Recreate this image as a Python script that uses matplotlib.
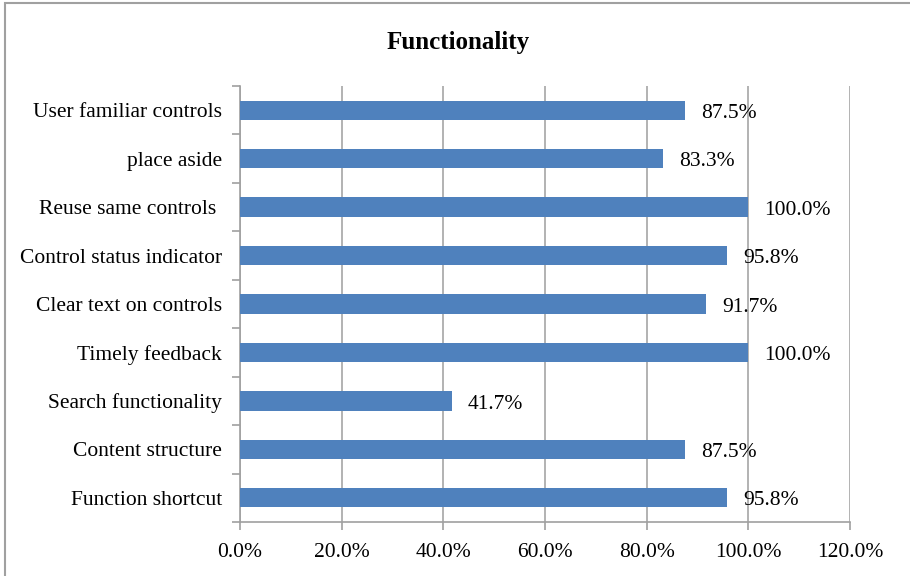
import matplotlib
matplotlib.use("Agg")
import matplotlib.pyplot as plt
from matplotlib.patches import Rectangle
from matplotlib.ticker import FixedLocator

categories = ["Function shortcut", "Content structure", "Search functionality",
              "Timely feedback", "Clear text on controls", "Control status indicator",
              "Reuse same controls ", "place aside", "User familiar controls"]
values = [95.8, 87.5, 41.7, 100.0, 91.7, 95.8, 100.0, 83.3, 87.5]
xticks = [0, 20, 40, 60, 80, 100, 120]
title = "Functionality"

plt.rcParams['font.family'] = ['Liberation Serif', 'DejaVu Serif']
FS = 15.5

fig = plt.figure(figsize=(9.1, 5.76), dpi=100)
ax = fig.add_axes([240/910, 1-522/576, 610/910, 436/576])

y = list(range(len(categories)))
ax.barh(y, values, height=0.4, color='#4f81bd', zorder=3)
ax.set_xlim(0, 120)
ax.set_ylim(-0.5, len(categories)-0.5)
ax.set_xticks(xticks)
ax.set_xticklabels([f"{v:.1f}%" for v in xticks], fontsize=FS)
ax.set_yticks(y)
ax.set_yticklabels(categories, fontsize=FS)
ax.yaxis.set_minor_locator(FixedLocator([i-0.5 for i in range(len(categories)+1)]))
ax.tick_params(axis='y', which='major', length=0, pad=13)
ax.tick_params(axis='y', which='minor', length=6, color='#a0a0a0', width=1.2, direction='out')
ax.tick_params(axis='x', which='major', length=6, color='#a0a0a0', width=1.2, pad=9, direction='out')
ax.grid(axis='x', color='#a6a6a6', linewidth=1.2, zorder=0)
for s in ['top', 'right']:
    ax.spines[s].set_visible(False)
for s in ['left', 'bottom']:
    ax.spines[s].set_color('#a0a0a0')
    ax.spines[s].set_linewidth(1.2)

for yi, v in zip(y, values):
    ax.annotate(f"{v:.1f}%", (v, yi), xytext=(11.5, -0.5), textcoords='offset points',
                ha='left', va='center_baseline', fontsize=FS, zorder=4)

fig.text(0.503, 1-42/576, title, ha='center', va='center', fontsize=18, fontweight='bold')
fig.patches.append(Rectangle((4.5/910, -0.05), 1.0, 1.05-3.5/576, transform=fig.transFigure,
                             fill=False, edgecolor='#a0a0a0', linewidth=1.5))
fig.savefig("out.png", dpi=100)
